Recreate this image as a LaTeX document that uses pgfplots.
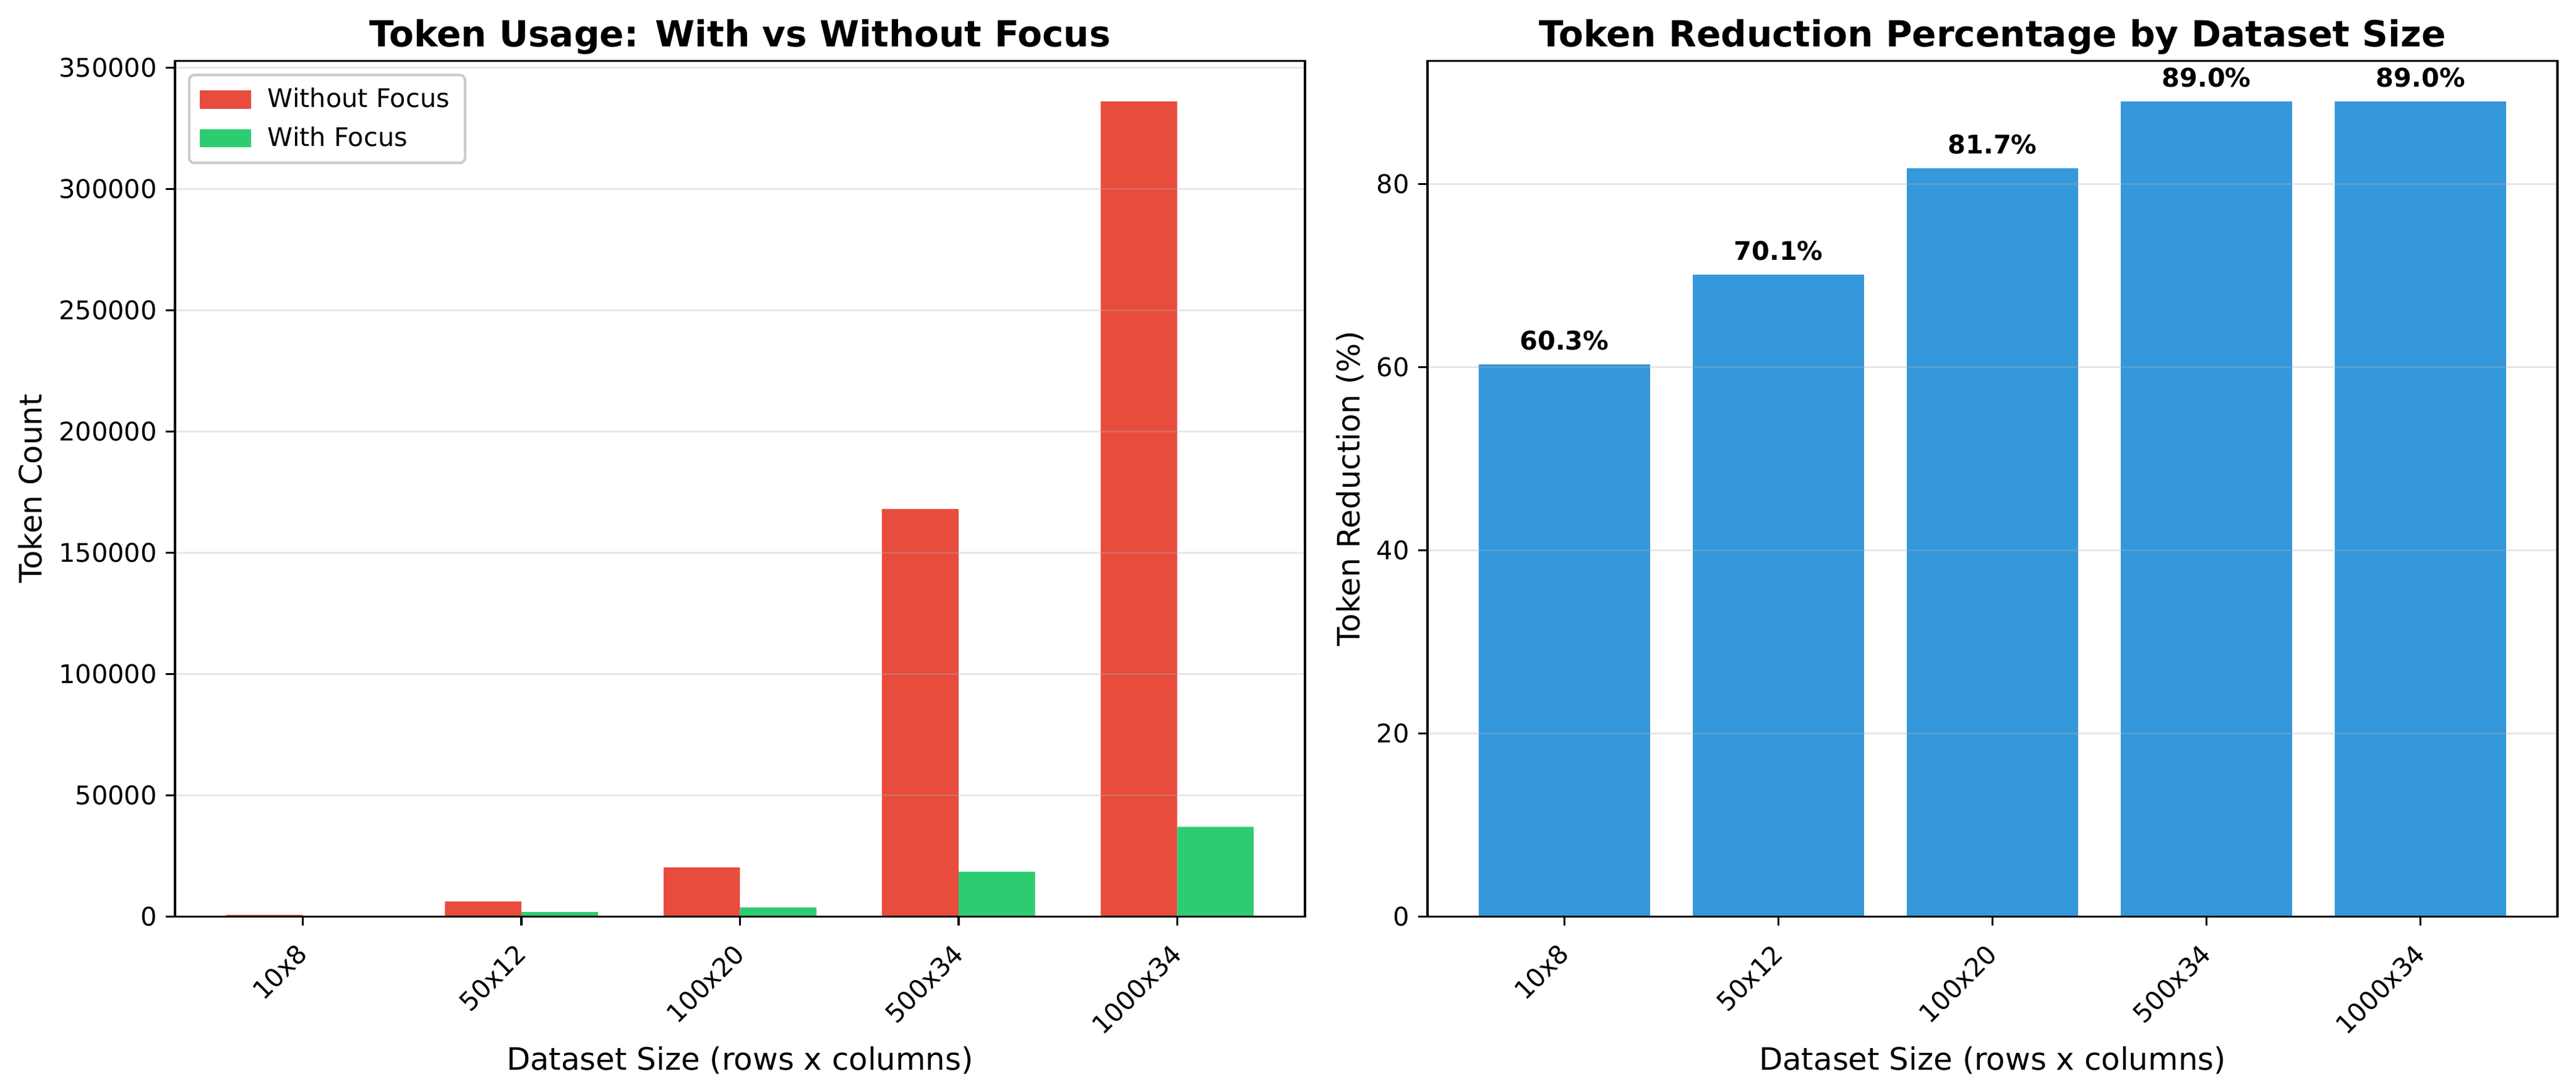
\documentclass[border=0pt]{standalone}
\usepackage{fontspec}
\setmainfont{DejaVu Sans}
\usepackage{pgfplots}
\pgfplotsset{compat=1.18}

\definecolor{cred}{HTML}{E74C3C}
\definecolor{cgreen}{HTML}{2ECC71}
\definecolor{cblue}{HTML}{3498DB}
\definecolor{cgrid}{RGB}{176,176,176}
\definecolor{cframe}{RGB}{204,204,204}

\pgfplotsset{
  panel/.style={
    scale only axis,
    width=438.5bp, height=331.9bp,
    axis on top,
    axis line style={black, line width=0.8bp},
    tick align=outside, tick pos=left,
    major tick length=3.5bp,
    major tick style={black, line width=0.8bp},
    ymajorgrids,
    major grid style={cgrid, opacity=0.3, line width=0.8bp},
    ticklabel style={font=\fontsize{10}{12}\selectfont},
    /pgf/number format/assume math mode=true,
    /pgf/number format/fixed,
    /pgf/number format/1000 sep={},
    scaled y ticks=false,
    xtick={0,1,2,3,4},
    xticklabels={10x8,50x12,100x20,500x34,1000x34},
    xticklabel style={rotate=45, anchor=north east, inner xsep=6.5bp, inner ysep=2.5bp},
    every axis title shift=0pt,
    title style={at={(axis description cs:0.5,1)}, anchor=base, yshift=5.5bp,
      font=\fontsize{14}{17}\selectfont\bfseries},
    xlabel style={at={(axis description cs:0.5,0)}, anchor=base, yshift=-59.6bp,
      font=\fontsize{12}{14}\selectfont},
    xlabel={Dataset Size (rows x columns)},
    ymin=0,
    ybar,
  },
}

\begin{document}
\begin{tikzpicture}
\useasboundingbox (0,0) rectangle (999.6bp,423.4bp);

% left panel: token counts
\begin{axis}[
    panel,
    at={(67.9bp,67.9bp)}, anchor=south west,
    title={Token Usage: With vs Without Focus},
    ylabel={Token Count},
    ylabel style={at={([xshift=-51.6bp]axis description cs:0,0.5)}, anchor=base,
      font=\fontsize{12}{14}\selectfont},
    xmin=-0.585, xmax=4.585,
    ymax=352800,
    ytick={0,50000,100000,150000,200000,250000,300000,350000},
    bar width=0.35,
    legend image code/.code={\fill[#1, sharp corners, fill opacity=1] (0bp,-3.5bp) rectangle (20bp,3.5bp);},
    legend cell align=left,
    legend style={at={(axis description cs:0,1)}, anchor=north west,
      xshift=5bp, yshift=-5bp,
      draw=cframe, line width=1bp, rounded corners=2bp,
      fill=white, fill opacity=0.8, text opacity=1,
      font=\fontsize{10}{12}\selectfont,
      inner xsep=4bp, inner ysep=3bp, row sep=2bp,
      /tikz/every odd column/.append style={column sep=4.5bp}},
]
\addplot[fill=cred, draw=none, bar shift=-0.175] coordinates {
  (0,650) (1,6140) (2,20200) (3,168000) (4,336000)
};
\addlegendentry{Without Focus}
\addplot[fill=cgreen, draw=none, bar shift=0.175] coordinates {
  (0,258) (1,1836) (2,3700) (3,18480) (4,36960)
};
\addlegendentry{With Focus}
\end{axis}

% right panel: reduction percentage
\begin{axis}[
    panel,
    at={(553.9bp,67.9bp)}, anchor=south west,
    title={Token Reduction Percentage by Dataset Size},
    ylabel={Token Reduction (\%)},
    ylabel style={at={([xshift=-26.2bp]axis description cs:0,0.5)}, anchor=base,
      font=\fontsize{12}{14}\selectfont},
    xmin=-0.64, xmax=4.64,
    ymax=93.45,
    ytick={0,20,40,60,80},
    bar width=0.8,
    nodes near coords={\pgfmathprintnumber[fixed,fixed zerofill,precision=1,assume math mode=true]{\pgfplotspointmeta}\%},
    nodes near coords style={font=\fontsize{10}{12}\selectfont\bfseries,
      anchor=base, yshift=5.6bp},
]
\addplot[fill=cblue, draw=none, bar shift=0] coordinates {
  (0,60.3) (1,70.1) (2,81.7) (3,89.0) (4,89.0)
};
\end{axis}
\end{tikzpicture}
\end{document}
